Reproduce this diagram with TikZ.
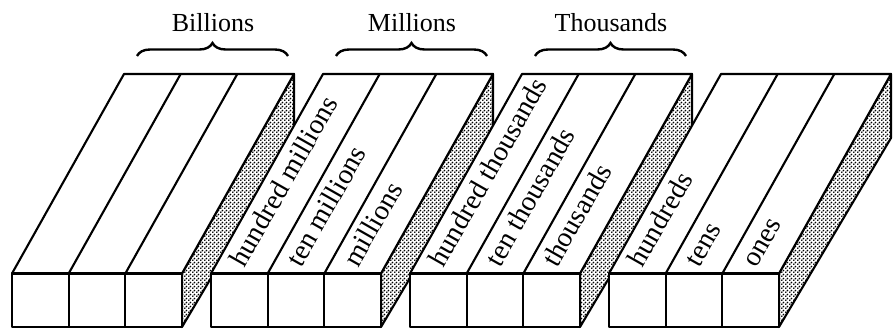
\documentclass[tikz,border=0pt]{standalone}
\usepackage{fontspec}
\setmainfont{Liberation Serif}
\usetikzlibrary{patterns,decorations.pathreplacing}
\pgfdeclarepatternformonly{sidedots}{\pgfpointorigin}{\pgfqpoint{3.6pt}{3.6pt}}{\pgfqpoint{3.6pt}{3.6pt}}{%
  \pgfpathcircle{\pgfqpoint{0.9pt}{0.9pt}}{1.0pt}%
  \pgfpathcircle{\pgfqpoint{2.7pt}{2.7pt}}{1.0pt}%
  \pgfusepath{fill}}
\tikzset{
  edge/.style={line width=2.1pt, line join=round},
  sideface/.style={edge, pattern=sidedots},
  face/.style={edge, fill=white},
  collabel/.style={inner sep=0pt, rotate=60.38, anchor=mid west, font=\fontsize{28}{32}\selectfont},
  grouplabel/.style={inner sep=0pt, anchor=base, font=\fontsize{26}{30}\selectfont},
  groupbrace/.style={line width=2.4pt, decorate, decoration={brace, amplitude=13pt}}
}
\begin{document}
\begin{tikzpicture}[x=1pt, y=-1pt]
\useasboundingbox (0,0) rectangle (895,329);
\foreach \b in {0,1,2,3}{
  \pgfmathsetmacro{\xo}{12+199*\b}
  % shaded right side
  \draw[sideface] (\xo+170,273.5) -- (\xo+282,74) -- (\xo+282,138) -- (\xo+170,327) -- cycle;
  % top face
  \draw[face] (\xo,273.5) -- (\xo+112,74) -- (\xo+282,74) -- (\xo+170,273.5) -- cycle;
  \draw[edge] (\xo+56.67,273.5) -- (\xo+168.67,74);
  \draw[edge] (\xo+113.33,273.5) -- (\xo+225.33,74);
  % front face
  \draw[face] (\xo,273.5) rectangle (\xo+170,327);
  \draw[edge] (\xo+56.67,273.5) -- (\xo+56.67,327);
  \draw[edge] (\xo+113.33,273.5) -- (\xo+113.33,327);
}
% column labels
\foreach \b/\k/\t in {1/0/hundred millions, 1/1/ten millions, 1/2/millions,
                      2/0/hundred thousands, 2/1/ten thousands, 2/2/thousands,
                      3/0/hundreds, 3/1/tens, 3/2/ones}{
  \pgfmathsetmacro{\cx}{12+199*\b+(\k+0.5)*56.67+7*0.4898}
  \pgfmathsetmacro{\cy}{273.5-7*0.8718}
  \node[collabel] (lab\b\k) at (\cx,\cy) {\t};
}
% group braces and labels
\foreach \b/\t in {0/Billions, 1/Millions, 2/Thousands}{
  \pgfmathsetmacro{\xo}{12+199*\b}
  \coordinate (bl\b) at (\xo+125,56);
  \coordinate (br\b) at (\xo+276,56);
  \draw[groupbrace] (bl\b) -- (br\b);
  \node[grouplabel] (grp\b) at (\xo+201,32) {\t};
}
\end{tikzpicture}
\end{document}
